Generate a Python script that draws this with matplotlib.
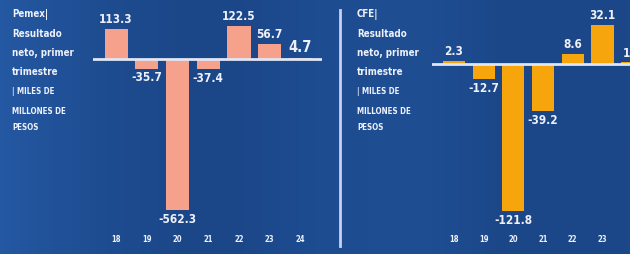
import numpy as np
import matplotlib
matplotlib.use('Agg')
import matplotlib.pyplot as plt
from matplotlib.colors import LinearSegmentedColormap

# Data
years = ['18', '19', '20', '21', '22', '23', '24']
pemex = [113.3, -35.7, -562.3, -37.4, 122.5, 56.7, 4.7]
cfe = [2.3, -12.7, -121.8, -39.2, 8.6, 32.1, 1.4]
pemex_labels = ['113.3', '-35.7', '-562.3', '-37.4', '122.5', '56.7', '4.7']
cfe_labels = ['2.3', '-12.7', '-121.8', '-39.2', '8.6', '32.1', '1.4']
title_pemex = ['Pemex|', 'Resultado', 'neto, primer', 'trimestre', '| MILES DE', 'MILLONES DE', 'PESOS']
title_cfe = ['CFE|', 'Resultado', 'neto, primer', 'trimestre', '| MILES DE', 'MILLONES DE', 'PESOS']

W, H = 630, 254
FONT = ['DejaVu Sans']
TXT = '#eef1fa'

fig = plt.figure(figsize=(W / 100, H / 100), dpi=100)

# background gradient
bg = fig.add_axes([0, 0, 1, 1])
cmap = LinearSegmentedColormap.from_list('bg', ['#2458a2', '#1e4c90', '#1b4687', '#1e4c91',
                                                 '#1f4e93', '#1b4687', '#1c4788'])
grad = np.linspace(0, 1, 300).reshape(1, -1)
bg.imshow(grad, aspect='auto', cmap=cmap, extent=[0, W, H, 0])
bg.set_xlim(0, W)
bg.set_ylim(H, 0)
bg.axis('off')

# divider and titles
bg.plot([340, 340], [10, 246], color='#c9d1f0', lw=2)
line_y = [15, 34, 53, 72, 92, 111, 128]
for i, s in enumerate(title_pemex):
    fs = 7 if i < 4 else 5.8
    bg.text(12, line_y[i], s, color=TXT, fontsize=fs, fontweight='bold', family=FONT,
            fontstretch='condensed', va='center')
for i, s in enumerate(title_cfe):
    fs = 7 if i < 4 else 5.8
    bg.text(357, line_y[i], s, color=TXT, fontsize=fs, fontweight='bold', family=FONT,
            fontstretch='condensed', va='center')


def panel(left_px, right_px, x0, x1, base_px, scale, vals, labels, color, n_show):
    ax = fig.add_axes([left_px / W, 0, (right_px - left_px) / W, 1])
    ax.set_xlim(x0, x1)
    top = base_px / scale
    bottom = -(H - base_px) / scale
    ax.set_ylim(bottom, top)
    ax.axis('off')
    x = np.arange(len(vals))
    ax.bar(x, vals, width=0.75, color=color, zorder=2, clip_on=False)
    ax.axhline(0, color='#dfe6f5', lw=2, zorder=3)
    for i, (v, lab) in enumerate(zip(vals, labels)):
        big = (lab == '4.7')
        if v >= 0:
            ax.annotate(lab, (i, v), xytext=(0, 2), textcoords='offset points', ha='center',
                        va='bottom', color=TXT, fontsize=10.5 if big else 8.5,
                        fontweight='bold', family=FONT, fontstretch='condensed',
                        annotation_clip=False)
        else:
            ax.annotate(lab, (i, v), xytext=(0, -2), textcoords='offset points', ha='center',
                        va='top', color=TXT, fontsize=8.5, fontweight='bold', family=FONT,
                        fontstretch='condensed', annotation_clip=False)
    for i in range(n_show):
        ax.text(i, (base_px - 240) / scale, years[i], ha='center', va='center', color=TXT,
                fontsize=5.5, fontweight='bold', family=FONT, fontstretch='condensed')
    return ax


panel(93, 322, -0.75, 6.7, 59, 151 / 562.3, pemex, pemex_labels, '#f6a18c', 7)
panel(432, 630, -0.74, 5.93, 64, 147 / 121.8, cfe, cfe_labels, '#f7a50c', 6)

fig.savefig('out.png', dpi=100)
